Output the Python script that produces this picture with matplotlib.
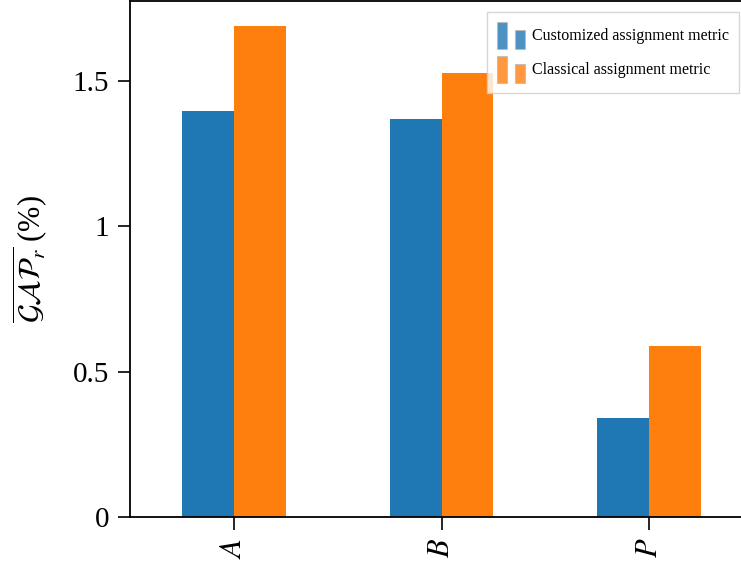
import numpy as np
import matplotlib.pyplot as plt
from matplotlib.patches import Rectangle

plt.rcParams['font.family'] = ['Liberation Serif', 'DejaVu Serif']
plt.rcParams['mathtext.fontset'] = 'stix'

# Dados
grupos = ['$A$', '$B$', '$P$']
customizada = [1.397, 1.369, 0.341]
classica = [1.689, 1.527, 0.588]
nomes = ['Customized assignment metric', 'Classical assignment metric']
cores = ['#1f77b4', '#ff7f0e']


class DuasBarras:
    # dois retangulos lado a lado na legenda
    def __init__(self, cor):
        self.cor = cor

    def legend_artist(self, legend, orig_handle, fontsize, handlebox):
        x0, y0 = -handlebox.xdescent, -handlebox.ydescent
        w, h = handlebox.width, handlebox.height
        bw = w * 0.36
        r1 = Rectangle((x0, y0), bw, h, facecolor=self.cor,
                       edgecolor='#bbbbbb', alpha=0.8, lw=0.8,
                       transform=handlebox.get_transform())
        r2 = Rectangle((x0 + w - bw, y0), bw, h * 0.68, facecolor=self.cor,
                       edgecolor='#bbbbbb', alpha=0.8, lw=0.8,
                       transform=handlebox.get_transform())
        handlebox.add_artist(r1)
        handlebox.add_artist(r2)
        return r1


fig = plt.figure(figsize=(7.41, 5.69), dpi=100)
ax = fig.add_axes([130 / 741, 52 / 569, (753 - 130) / 741, (568 - 52) / 569])

x = np.arange(len(grupos))
w = 0.25
b1 = ax.bar(x - w / 2, customizada, w, color=cores[0], label=nomes[0])
b2 = ax.bar(x + w / 2, classica, w, color=cores[1], label=nomes[1])

ax.set_xlim(-0.5, 2.5)
ax.set_ylim(0, 1.775)
ax.set_xticks(x)
ax.set_xticklabels(grupos, rotation=90, fontsize=22)
ax.set_yticks([0, 0.5, 1, 1.5])
ax.set_yticklabels(['0', '0.5', '1', '1.5'], fontsize=21)
ax.tick_params(direction='out', length=9, width=1.2, pad=6)
ax.set_ylabel(r'$\overline{\mathcal{GAP}_r}$ (%)', fontsize=22, labelpad=16)
for s in ax.spines.values():
    s.set_linewidth(1.3)

leg = ax.legend([b1, b2], nomes, fontsize=11.5,
                handler_map={b1: DuasBarras(cores[0]), b2: DuasBarras(cores[1])},
                loc='upper right', bbox_to_anchor=(739 / 741, 1 - 12 / 569),
                bbox_transform=fig.transFigure, borderaxespad=0,
                handlelength=1.8, handleheight=2.2, handletextpad=0.42,
                labelspacing=0.45, borderpad=0.62,
                fancybox=False, edgecolor='#cccccc')

fig.savefig('out.png', dpi=100)
